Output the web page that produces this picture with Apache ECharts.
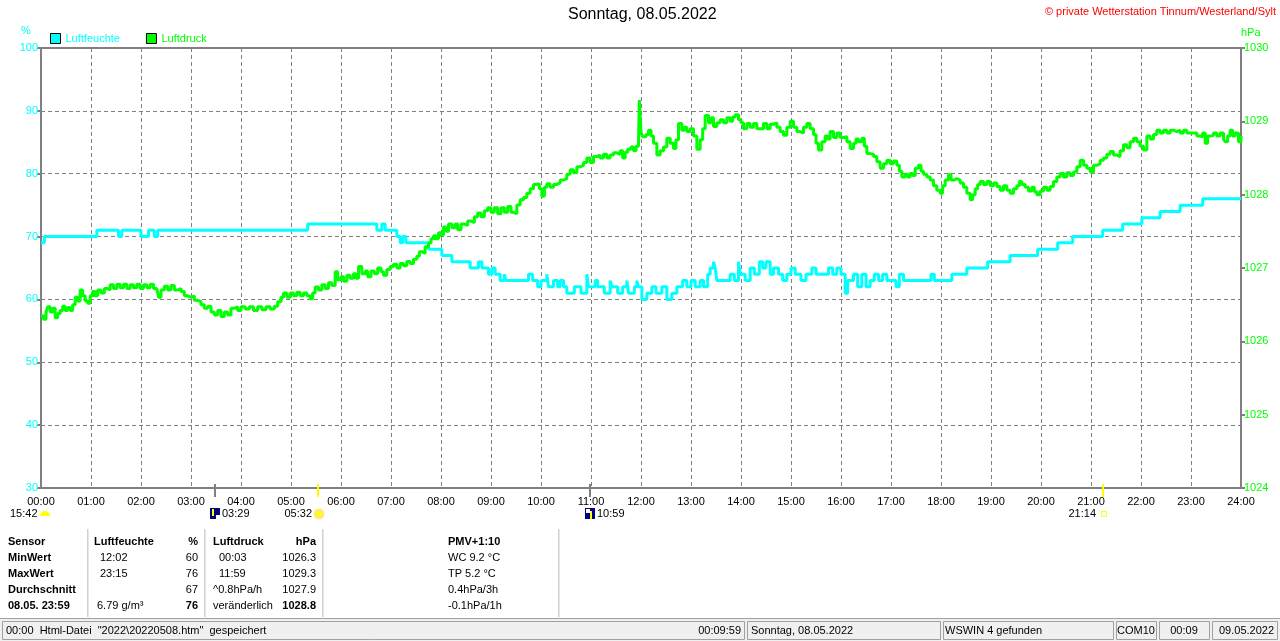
<!DOCTYPE html>
<html>
<head>
<meta charset="utf-8">
<script src="https://cdn.jsdelivr.net/npm/echarts@6/dist/echarts.min.js"></script>
<style>
html,body{margin:0;padding:0;background:#fff;}
#c{width:1280px;height:641px;}
</style>
</head>
<body>
<div id="c"></div>
<script>
// ---------------- DATA ----------------
const xLabels = ['00:00','01:00','02:00','03:00','04:00','05:00','06:00','07:00','08:00','09:00','10:00','11:00','12:00',
  '13:00','14:00','15:00','16:00','17:00','18:00','19:00','20:00','21:00','22:00','23:00','24:00'];

// Luftfeuchte [minute of day, %]
const humidity = [
[0,69],[4,70],[67,71],[93,70],[97,71],[120,70],[129,71],[136,70],[140,71],[320,72],[403,71],[409,72],[413,71],
[427,70],[431,69],[434,70],[438,69],[465,68],[481,67],[493,66],[515,65],[525,66],[529,65],[537,64],[541,65],
[545,64],[551,63],[556,64],[558,63],[575,63],[585,64],[590,63],[596,62],[600,63],[607,64],[609,62],[615,63],
[620,62],[623,63],[627,62],[631,61],[640,62],[648,61],[655,64],[657,62],[665,63],[668,62],[676,61],[683,63],
[685,62],[692,61],[698,62],[703,63],[705,61],[712,62],[715,63],[717,62],[721,60],[727,61],[733,62],[738,61],
[745,62],[751,60],[757,61],[763,62],[770,63],[775,62],[780,63],[785,62],[791,63],[795,62],[800,64],[803,65],
[807,66],[809,65],[811,63],[820,63],[827,64],[832,63],[837,66],[839,64],[845,63],[851,65],[856,64],[862,66],
[866,65],[870,66],[875,64],[879,65],[885,64],[890,63],[895,64],[900,65],[905,64],[912,63],[918,64],[925,65],
[930,64],[945,65],[950,64],[955,65],[960,64],[965,61],[968,63],[975,64],[980,62],[985,64],[990,62],[995,63],
[1000,64],[1005,63],[1010,64],[1015,63],[1026,62],[1030,64],[1035,63],[1068,64],[1072,63],[1093,64],[1111,65],
[1136,66],[1163,67],[1196,68],[1220,69],[1238,70],[1274,71],[1298,72],[1321,73],[1343,74],[1367,75],[1394,76],
[1440,76]
];

// Luftdruck [minute of day, hPa]
const pressure = [
[0,1026.35],[3,1026.3],[6,1026.4],[8,1026.47],[11,1026.4],[14,1026.45],[17,1026.32],[20,1026.38],[23,1026.42],
[26,1026.48],[29,1026.42],[32,1026.46],[35,1026.42],[38,1026.5],[41,1026.6],[44,1026.55],[47,1026.7],[50,1026.62],
[53,1026.55],[56,1026.52],[59,1026.62],[62,1026.68],[65,1026.62],[68,1026.7],[72,1026.66],[76,1026.72],[80,1026.7],
[83,1026.77],[87,1026.72],[91,1026.78],[95,1026.73],[99,1026.78],[103,1026.72],[107,1026.77],[111,1026.73],
[115,1026.78],[119,1026.72],[123,1026.77],[127,1026.73],[131,1026.78],[135,1026.72],[139,1026.7],[141,1026.6],
[144,1026.7],[148,1026.75],[152,1026.7],[156,1026.76],[160,1026.7],[164,1026.72],[168,1026.68],[172,1026.62],
[176,1026.6],[180,1026.62],[184,1026.56],[188,1026.54],[192,1026.5],[196,1026.45],[200,1026.48],[204,1026.4],
[208,1026.36],[212,1026.42],[216,1026.34],[220,1026.4],[224,1026.36],[228,1026.45],[232,1026.47],[236,1026.42],
[240,1026.47],[245,1026.44],[250,1026.47],[255,1026.42],[260,1026.47],[265,1026.43],[270,1026.47],[275,1026.44],
[280,1026.48],[284,1026.54],[288,1026.6],[291,1026.66],[295,1026.6],[299,1026.66],[303,1026.62],[307,1026.67],
[311,1026.62],[315,1026.66],[319,1026.62],[323,1026.58],[326,1026.66],[329,1026.74],[333,1026.7],[337,1026.77],
[341,1026.72],[345,1026.8],[349,1026.76],[353,1026.95],[356,1026.84],[360,1026.88],[363,1026.82],[367,1026.9],
[371,1026.86],[375,1026.92],[378,1026.86],[381,1027.02],[385,1026.92],[389,1026.96],[392,1026.88],[396,1026.96],
[400,1026.92],[404,1027.0],[408,1026.95],[411,1026.9],[415,1026.98],[419,1027.02],[423,1027.05],[427,1027.0],
[431,1027.06],[435,1027.03],[439,1027.09],[443,1027.06],[447,1027.12],[451,1027.16],[454,1027.22],[458,1027.2],
[461,1027.29],[465,1027.34],[468,1027.4],[471,1027.44],[474,1027.4],[477,1027.48],[480,1027.45],[483,1027.56],
[486,1027.5],[489,1027.6],[493,1027.55],[497,1027.6],[500,1027.52],[504,1027.6],[508,1027.58],[512,1027.64],
[516,1027.62],[520,1027.7],[524,1027.75],[528,1027.7],[532,1027.78],[536,1027.82],[540,1027.76],[544,1027.82],
[548,1027.74],[552,1027.82],[556,1027.76],[560,1027.84],[564,1027.76],[567,1027.74],[571,1027.86],[575,1027.93],
[579,1027.96],[583,1028.02],[587,1028.08],[591,1028.14],[595,1028.15],[598,1028.08],[601,1027.98],[604,1028.1],
[607,1028.15],[611,1028.1],[615,1028.14],[619,1028.16],[623,1028.2],[627,1028.22],[631,1028.28],[635,1028.34],
[639,1028.3],[643,1028.38],[647,1028.4],[651,1028.44],[655,1028.5],[659,1028.44],[663,1028.52],[667,1028.54],
[671,1028.5],[675,1028.55],[679,1028.5],[683,1028.54],[687,1028.57],[691,1028.55],[695,1028.6],[698,1028.5],
[701,1028.58],[704,1028.62],[708,1028.65],[711,1028.6],[714,1028.66],[717,1028.7],[718,1029.29],[720,1028.85],
[722,1028.79],[726,1028.82],[729,1028.88],[732,1028.8],[735,1028.7],[739,1028.54],[743,1028.6],[747,1028.65],
[751,1028.77],[755,1028.7],[759,1028.63],[762,1028.75],[765,1028.97],[769,1028.88],[772,1028.92],[775,1028.86],
[779,1028.9],[783,1028.8],[787,1028.62],[791,1028.75],[794,1028.9],[797,1029.08],[801,1028.98],[804,1029.05],
[807,1028.93],[811,1028.98],[815,1029.02],[819,1028.98],[823,1029.05],[827,1029.0],[830,1029.06],[833,1029.09],
[837,1029.02],[840,1028.98],[843,1028.9],[847,1028.97],[851,1028.92],[855,1028.97],[859,1028.9],[863,1028.9],
[867,1028.97],[871,1028.9],[875,1028.96],[879,1028.98],[883,1028.92],[887,1028.86],[891,1028.81],[895,1028.92],
[899,1029.0],[903,1028.92],[907,1028.86],[911,1028.84],[915,1028.92],[919,1028.97],[923,1028.9],[927,1028.82],
[930,1028.7],[933,1028.61],[937,1028.72],[941,1028.8],[944,1028.76],[947,1028.86],[951,1028.78],[955,1028.84],
[959,1028.78],[963,1028.79],[967,1028.72],[971,1028.63],[975,1028.7],[978,1028.76],[981,1028.72],[985,1028.77],
[988,1028.66],[991,1028.56],[995,1028.55],[999,1028.52],[1003,1028.45],[1007,1028.36],[1011,1028.42],[1015,1028.47],
[1019,1028.42],[1023,1028.46],[1027,1028.4],[1030,1028.32],[1033,1028.24],[1037,1028.28],[1040,1028.24],[1043,1028.29],
[1046,1028.26],[1049,1028.36],[1053,1028.4],[1056,1028.32],[1059,1028.28],[1063,1028.24],[1067,1028.2],[1071,1028.12],
[1075,1028.06],[1079,1028.02],[1082,1028.12],[1085,1028.2],[1089,1028.27],[1092,1028.2],[1096,1028.22],[1099,1028.2],
[1103,1028.16],[1107,1028.1],[1111,1028.02],[1115,1027.93],[1118,1028.0],[1121,1028.08],[1124,1028.14],[1127,1028.18],
[1131,1028.14],[1135,1028.18],[1139,1028.12],[1143,1028.16],[1147,1028.11],[1151,1028.06],[1155,1028.12],[1159,1028.06],
[1163,1028.02],[1167,1028.08],[1171,1028.12],[1174,1028.18],[1177,1028.14],[1181,1028.1],[1185,1028.05],[1189,1028.1],
[1192,1028.04],[1195,1028.0],[1199,1028.05],[1203,1028.1],[1207,1028.06],[1211,1028.11],[1215,1028.18],[1219,1028.24],
[1223,1028.29],[1227,1028.24],[1231,1028.3],[1235,1028.26],[1239,1028.31],[1243,1028.38],[1247,1028.47],[1251,1028.4],
[1255,1028.36],[1259,1028.31],[1263,1028.4],[1267,1028.42],[1271,1028.47],[1275,1028.5],[1279,1028.55],[1283,1028.59],
[1287,1028.54],[1291,1028.52],[1295,1028.6],[1299,1028.68],[1303,1028.64],[1307,1028.72],[1311,1028.77],[1315,1028.72],
[1319,1028.66],[1323,1028.61],[1327,1028.8],[1331,1028.76],[1335,1028.82],[1339,1028.88],[1343,1028.84],[1347,1028.88],
[1351,1028.84],[1355,1028.88],[1359,1028.86],[1363,1028.88],[1367,1028.84],[1371,1028.88],[1375,1028.84],[1379,1028.84],
[1383,1028.84],[1387,1028.8],[1391,1028.79],[1394,1028.84],[1397,1028.7],[1400,1028.8],[1403,1028.81],[1407,1028.84],
[1411,1028.8],[1415,1028.84],[1419,1028.76],[1421,1028.72],[1424,1028.8],[1427,1028.88],[1430,1028.8],[1433,1028.84],
[1437,1028.72],[1440,1028.8]
];

// sun / moon events: [minute, label, kind]
const events = [[209,'03:29','moonset'],[332,'05:32','sunrise'],[659,'10:59','moonrise'],[1274,'21:14','sunset']];

// summary table rows
const tableRows = [
  ['Sensor','Luftfeuchte','%','Luftdruck','hPa','PMV+1:10'],
  ['MinWert','12:02','60','00:03','1026.3','WC 9.2 °C'],
  ['MaxWert','23:15','76','11:59','1029.3','TP 5.2 °C'],
  ['Durchschnitt','','67','^0.8hPa/h','1027.9','0.4hPa/3h'],
  ['08.05. 23:59','6.79 g/m³','76','veränderlich','1028.8','-0.1hPa/1h']
];
const statusTexts = ['00:00  Html-Datei  "2022\\20220508.htm"  gespeichert','00:09:59','Sonntag, 08.05.2022','WSWIN 4 gefunden','COM10','00:09','09.05.2022'];

// ---------------- CHART ----------------
const FF = '"Liberation Sans", Arial, sans-serif';
const CYAN = '#00ffff', GREEN = '#00ff00', GRAY = '#808080';
const chart = echarts.init(document.getElementById('c'));

chart.setOption({
  animation: false,
  backgroundColor: '#ffffff',
  textStyle: {fontFamily: FF},
  title: [
    {text: 'Sonntag, 08.05.2022', left: 568, top: 2, padding: 0,
     textStyle: {fontSize: 16, fontWeight: 'normal', color: '#000', fontFamily: FF, lineHeight: 26}},
    {text: '© private Wetterstation Tinnum/Westerland/Sylt', right: 4, top: 2, padding: 0,
     textStyle: {fontSize: 11, fontWeight: 'normal', color: '#ff0000', fontFamily: FF, lineHeight: 20}}
  ],
  legend: {
    left: 50, top: 33, padding: 0, itemWidth: 10, itemHeight: 10, itemGap: 26, icon: 'rect',
    itemStyle: {borderColor: '#000', borderWidth: 1},
    textStyle: {fontSize: 11, fontFamily: FF},
    data: [
      {name: 'Luftfeuchte', textStyle: {color: CYAN}},
      {name: 'Luftdruck', textStyle: {color: GREEN}}
    ]
  },
  grid: {left: 41, right: 39, top: 48, bottom: 153, show: true, borderColor: GRAY, borderWidth: 2, backgroundColor: '#fff'},
  xAxis: {
    type: 'value', min: 0, max: 1440, interval: 60,
    axisLine: {show: true, lineStyle: {color: GRAY, width: 2}},
    axisTick: {show: false},
    axisLabel: {color: '#000', fontSize: 11, fontFamily: FF, margin: 8,
      formatter: v => xLabels[Math.round(v / 60)]},
    splitLine: {show: true, lineStyle: {color: GRAY, type: [4, 3], width: 1}}
  },
  yAxis: [
    {type: 'value', min: 30, max: 100, interval: 10, position: 'left',
     axisLine: {show: true, lineStyle: {color: GRAY, width: 2}},
     axisTick: {show: true, length: 4, lineStyle: {color: GRAY, width: 2}},
     axisLabel: {color: CYAN, fontSize: 11, fontFamily: FF, margin: 3, formatter: v => String(v)},
     splitLine: {show: true, lineStyle: {color: GRAY, type: [4, 3], width: 1}}},
    {type: 'value', min: 1024, max: 1030, interval: 1, position: 'right',
     axisLine: {show: true, lineStyle: {color: GRAY, width: 2}},
     axisTick: {show: true, length: 4, lineStyle: {color: GRAY, width: 2}},
     axisLabel: {color: GREEN, fontSize: 11, fontFamily: FF, margin: 3, formatter: v => String(v)},
     splitLine: {show: false}}
  ],
  series: [
    {name: 'Luftfeuchte', type: 'line', yAxisIndex: 0, step: 'end', data: humidity,
     showSymbol: false, color: CYAN, lineStyle: {color: CYAN, width: 3}, z: 3},
    {name: 'Luftdruck', type: 'line', yAxisIndex: 1, step: 'end', data: pressure,
     showSymbol: false, color: GREEN, lineStyle: {color: GREEN, width: 3}, z: 4}
  ]
});

// --------- annotations (texts, markers, table, status bar) ---------
const g = [];
const F11 = '11px ' + FF, B11 = 'bold 11px ' + FF;
function txt(x, y, s, opt) {
  opt = opt || {};
  g.push({type: 'text', x: x, y: y, silent: true, z: 10,
    style: {text: s, fill: opt.fill || '#000', font: opt.font || F11,
      textAlign: opt.align || 'left', textVerticalAlign: 'middle'}});
}
function line(x1, y1, x2, y2, stroke, w) {
  g.push({type: 'line', silent: true, z: 10, shape: {x1, y1, x2, y2}, style: {stroke: stroke, lineWidth: w || 1}});
}

// axis units
txt(26, 31, '%', {fill: CYAN, align: 'center'});
txt(1241, 33, 'hPa', {fill: GREEN});

// event markers below x axis
const axisY = chart.convertToPixel({yAxisIndex: 0}, 30);
txt(10, 514, '15:42');
g.push({type: 'sector', silent: true, z: 10, shape: {cx: 45, cy: 516, r0: 0, r: 5, startAngle: Math.PI, endAngle: 2 * Math.PI},
  style: {fill: '#ffff00'}});
events.forEach(ev => {
  const x = Math.round(chart.convertToPixel({xAxisIndex: 0}, ev[0]));
  const isSun = ev[2] === 'sunrise' || ev[2] === 'sunset';
  line(x, axisY - 4, x, axisY + 9, isSun ? '#ffff00' : GRAY, 2);
  if (ev[2] === 'moonset') {
    g.push({type: 'rect', silent: true, z: 10, shape: {x: x - 5, y: 508, width: 10, height: 11}, style: {fill: '#000080'}});
    line(x - 2, 509, x - 2, 516, '#ffff00', 2);
    g.push({type: 'rect', silent: true, z: 11, shape: {x: x + 1, y: 515, width: 4, height: 4}, style: {fill: '#ffffff'}});
    txt(x + 7, 514, ev[1]);
  } else if (ev[2] === 'moonrise') {
    g.push({type: 'rect', silent: true, z: 10, shape: {x: x - 5, y: 508, width: 10, height: 11}, style: {fill: '#000080'}});
    line(x + 1, 511, x + 1, 519, '#ffff00', 2);
    g.push({type: 'rect', silent: true, z: 11, shape: {x: x - 4, y: 509, width: 4, height: 4}, style: {fill: '#ffffff'}});
    txt(x + 7, 514, ev[1]);
  } else if (ev[2] === 'sunrise') {
    g.push({type: 'circle', silent: true, z: 10, shape: {cx: x + 1, cy: 514, r: 4}, style: {fill: '#ffff00', stroke: '#ffe97a', lineWidth: 3}});
    txt(x - 6, 514, ev[1], {align: 'right'});
  } else {
    g.push({type: 'rect', silent: true, z: 10, shape: {x: x - 1.5, y: 511.5, width: 5, height: 5}, style: {fill: 'none', stroke: '#ffff00', lineWidth: 1}});
    txt(x - 7, 514, ev[1], {align: 'right'});
  }
});

// summary table
const rowY = [542, 558, 574, 590, 606];
const colX = [8, 100, 198, 213, 316, 448];
tableRows.forEach((r, i) => {
  const hdr = i === 0;
  txt(colX[0], rowY[i], r[0], {font: B11});
  txt(hdr ? 94 : (i === 4 ? 97 : colX[1]), rowY[i], r[1], {font: hdr ? B11 : F11});
  txt(colX[2], rowY[i], r[2], {font: (hdr || i === 4) ? B11 : F11, align: 'right'});
  txt((hdr || i >= 3) ? 213 : 219, rowY[i], r[3], {font: hdr ? B11 : F11});
  txt(colX[4], rowY[i], r[4], {font: (hdr || i === 4) ? B11 : F11, align: 'right'});
  txt(colX[5], rowY[i], r[5], {font: hdr ? B11 : F11});
});
[88, 205, 323, 559].forEach(x => { line(x, 529, x, 617, '#a0a0a0', 1); line(x + 1, 529, x + 1, 617, '#ffffff', 1); });

// status bar
g.push({type: 'rect', silent: true, z: 9, shape: {x: 0, y: 619, width: 1280, height: 22}, style: {fill: '#f0f0f0'}});
line(0, 618.5, 1280, 618.5, '#a0a0a0', 1);
const panels = [[2, 744], [747, 940], [943, 1113], [1116, 1156], [1159, 1209], [1212, 1277]];
panels.forEach(p => {
  g.push({type: 'rect', silent: true, z: 10, shape: {x: p[0] + 0.5, y: 621.5, width: p[1] - p[0], height: 18},
    style: {fill: 'none', stroke: '#a0a0a0', lineWidth: 1}});
});
txt(6, 631, statusTexts[0]);
txt(741, 631, statusTexts[1], {align: 'right'});
txt(751, 631, statusTexts[2]);
txt(945, 631, statusTexts[3]);
txt(1117, 631, statusTexts[4]);
txt(1184, 631, statusTexts[5], {align: 'center'});
txt(1219, 631, statusTexts[6]);

chart.setOption({graphic: g});
</script>
</body>
</html>
